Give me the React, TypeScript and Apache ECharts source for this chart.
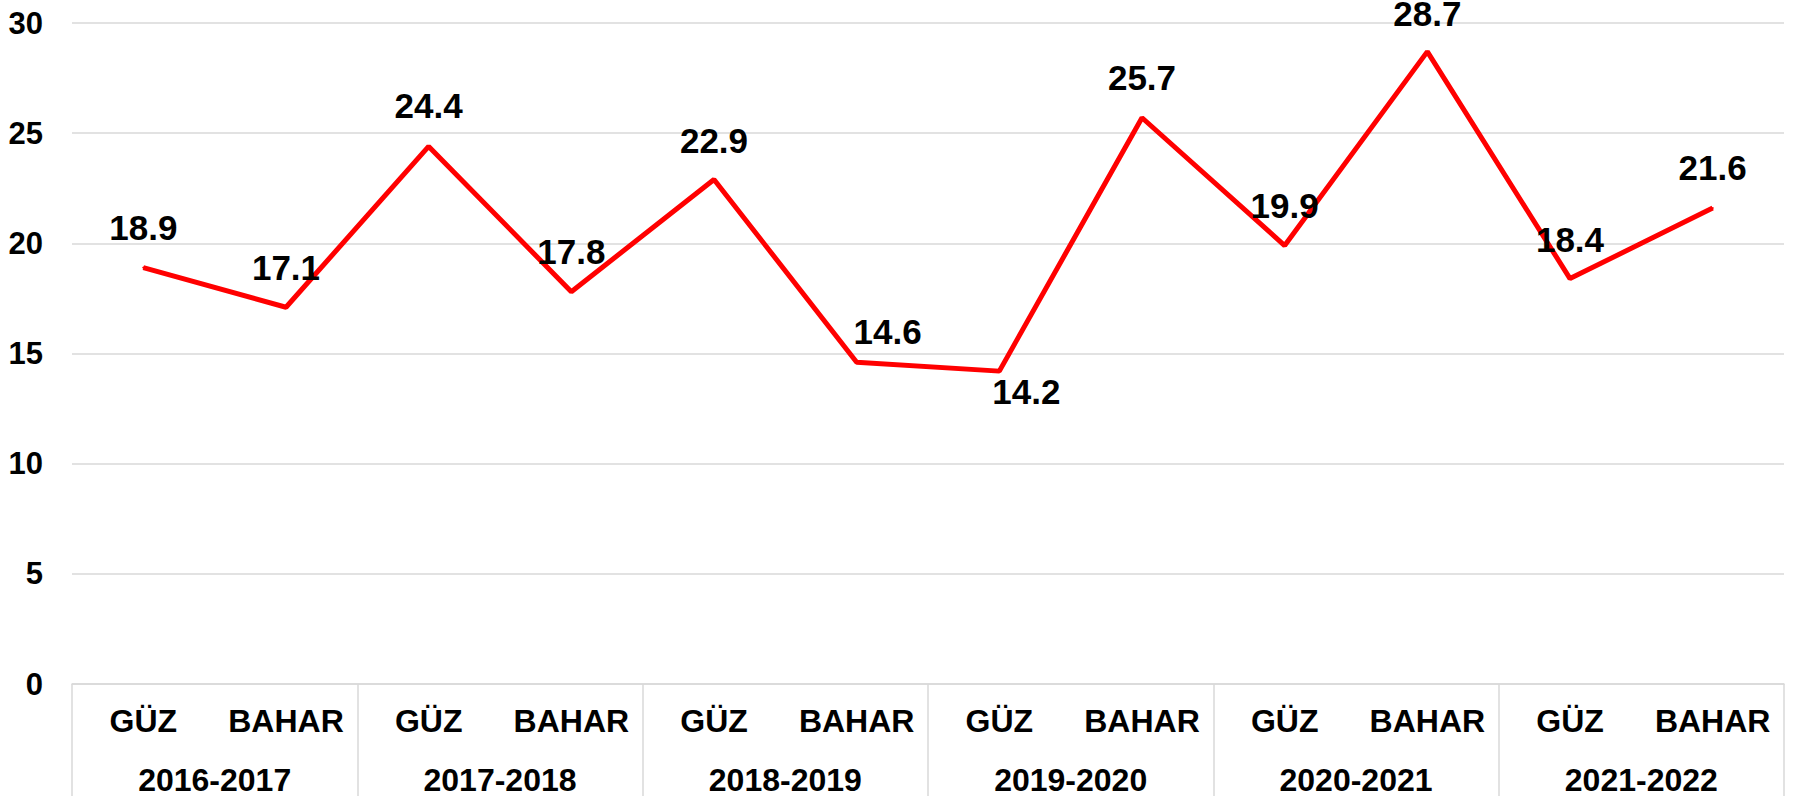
import React, { useEffect, useRef } from "react";
import * as echarts from "echarts";

const semesters = ["GÜZ", "BAHAR", "GÜZ", "BAHAR", "GÜZ", "BAHAR", "GÜZ", "BAHAR", "GÜZ", "BAHAR", "GÜZ", "BAHAR"];
const years = ["2016-2017", "2017-2018", "2018-2019", "2019-2020", "2020-2021", "2021-2022"];
const values = [18.9, 17.1, 24.4, 17.8, 22.9, 14.6, 14.2, 25.7, 19.9, 28.7, 18.4, 21.6];
const labelOffsets: [number, number][] = [
  [0, -40], [0, -40], [0, -41], [0, -40], [0, -39], [31, -31],
  [27, 20], [0, -40], [0, -40], [0, -38], [0, -39], [0, -41],
];

const FONT = "'Liberation Sans', Arial, Helvetica, sans-serif";
const GRID_COLOR = "#d9d9d9";

export default function App() {
  const ref = useRef<HTMLDivElement>(null);
  useEffect(() => {
    if (!ref.current) return;
    const chart = echarts.init(ref.current, undefined, { renderer: "svg" });
    chart.setOption({
      animation: false,
      backgroundColor: "#ffffff",
      grid: { left: 72, right: 9, top: 23, bottom: 110, containLabel: false },
      xAxis: [
        {
          type: "category",
          data: semesters,
          position: "bottom",
          boundaryGap: true,
          axisLine: { show: true, lineStyle: { color: GRID_COLOR, width: 1.5 } },
          axisTick: { show: false },
          axisLabel: {
            interval: 0,
            margin: 21,
            color: "#000",
            fontSize: 32,
            fontWeight: "bold",
            fontFamily: FONT,
          },
          splitLine: { show: false },
        },
        {
          type: "category",
          data: years,
          position: "bottom",
          boundaryGap: true,
          axisLine: { show: false },
          axisTick: {
            show: true,
            interval: 0,
            length: 112,
            lineStyle: { color: GRID_COLOR, width: 1.5 },
          },
          axisLabel: {
            interval: 0,
            margin: 80,
            color: "#000",
            fontSize: 32,
            fontWeight: "bold",
            fontFamily: FONT,
          },
          splitLine: { show: false },
        },
      ],
      yAxis: {
        type: "value",
        min: 0,
        max: 30,
        interval: 5,
        axisLine: { show: false },
        axisTick: { show: false },
        axisLabel: {
          margin: 29,
          color: "#000",
          fontSize: 31,
          fontWeight: "bold",
          fontFamily: FONT,
        },
        splitLine: { show: true, lineStyle: { color: GRID_COLOR, width: 1.5 } },
      },
      series: [
        {
          type: "line",
          xAxisIndex: 0,
          data: values.map((v, i) => ({
            value: v,
            label: { offset: labelOffsets[i] },
          })),
          symbol: "circle",
          symbolSize: 2,
          itemStyle: { color: "#ff0000" },
          lineStyle: { color: "#ff0000", width: 5 },
          label: {
            show: true,
            position: "inside",
            color: "#000",
            fontSize: 35,
            fontWeight: "bold",
            fontFamily: FONT,
            formatter: (p: any) => Number(p.value).toFixed(1),
          },
        },
      ],
    });
    return () => chart.dispose();
  }, []);
  return (
    <div
      ref={ref}
      style={{ position: "fixed", left: 0, top: 0, width: 1793, height: 796 }}
    />
  );
}
